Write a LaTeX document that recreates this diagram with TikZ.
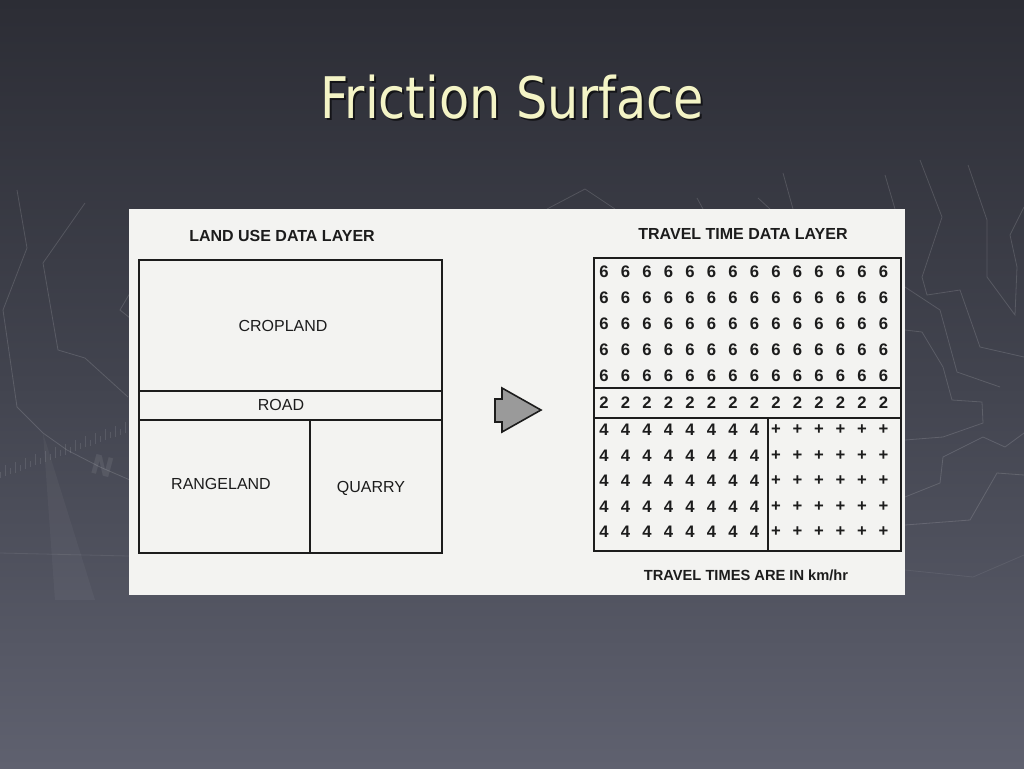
\documentclass[tikz,border=0pt]{standalone}
\usepackage{fontspec}
\usepackage{tikz}
\usetikzlibrary{shapes,arrows,positioning}
\newfontfamily\titlefont{DejaVu Sans}
\newfontfamily\panelfont{Liberation Sans}
\definecolor{slidetop}{HTML}{2C2D35}
\definecolor{slidemid}{HTML}{42444F}
\definecolor{slidebottom}{HTML}{5F616F}
\definecolor{titlecream}{HTML}{F4F4C6}
\definecolor{paper}{HTML}{F3F3F1}
\definecolor{ink}{HTML}{1C1C1C}
\definecolor{arrowgray}{HTML}{9A9A9A}

\begin{document}
\begin{tikzpicture}[x=0.75pt, y=-0.75pt]
% Define styles
\tikzstyle{heading} = [font=\panelfont\bfseries\fontsize{12}{14}\selectfont, text=ink, inner sep=0pt, text depth=0pt]
\tikzstyle{landlabel} = [font=\panelfont\fontsize{12}{14}\selectfont, text=ink, inner sep=0pt, text depth=0pt]
\tikzstyle{cell} = [font=\panelfont\bfseries\fontsize{12.5}{14}\selectfont, text=ink, inner sep=0pt, text depth=0pt]
\tikzstyle{border} = [draw=ink, line width=1.5pt]
\tikzstyle{contour} = [draw=white, opacity=0.14, line width=0.6pt]

% Background
\fill[top color=slidetop, bottom color=slidebottom, middle color=slidemid] (0,0) rectangle (1024,768);
\useasboundingbox (0,0) rectangle (1024,768);

% Faint map lines
\draw[contour] (17,190) -- (27,248) -- (3,310) -- (17,407) -- (43,433) -- (67,450) -- (100,467) -- (130,480);
\draw[contour] (85,203) -- (43,263) -- (58,350) -- (85,358) -- (128,397);
\draw[contour] (130,293) -- (120,310) -- (130,318);
\draw[contour, opacity=0.08] (0,553) -- (129,556);
\foreach \t in {0,...,25}
  \draw[contour, opacity=0.1] (5*\t, 478-0.36*5*\t) -- ++(0,{-6-5*mod(\t,2)});
\fill[white, opacity=0.04] (43,433) -- (95,600) -- (55,600) -- cycle;
\node (compassN) [font=\titlefont\bfseries\fontsize{20}{20}\selectfont, text=white, opacity=0.08, rotate=-15] at (103,466) {N};
\draw[contour] (547,209) -- (585,189) -- (615,209);
\draw[contour] (697,198) -- (703,209);
\draw[contour] (758,198) -- (770,209);
\draw[contour] (783,173) -- (793,209);
\draw[contour] (885,175) -- (895,209);
\draw[contour] (920,160) -- (942,217) -- (922,277) -- (927,295) -- (960,290) -- (980,347) -- (1024,357);
\draw[contour] (968,165) -- (987,220) -- (987,277) -- (1015,315) -- (1017,267) -- (1010,235) -- (1024,207);
\draw[contour] (905,287) -- (940,310) -- (957,372) -- (1000,387);
\draw[contour] (905,330) -- (922,332) -- (943,367) -- (952,400) -- (982,402) -- (983,423) -- (943,437) -- (905,440);
\draw[contour] (905,497) -- (940,483) -- (943,457) -- (983,437) -- (1005,447) -- (1024,433);
\draw[contour] (905,525) -- (970,520) -- (997,473) -- (1024,475);
\draw[contour, opacity=0.07] (905,570) -- (973,577) -- (1024,555);

% Title
\node (titleshadow) [font=\titlefont\fontsize{43}{50}\selectfont, text=black, opacity=0.6, anchor=base] at (514,120) {\scalebox{0.86}[1]{Friction Surface}};
\node (title) [font=\titlefont\fontsize{43}{50}\selectfont, text=titlecream, anchor=base] at (512,118) {\scalebox{0.86}[1]{Friction Surface}};

% Panel
\fill[paper] (129,209) rectangle (905,595);

% Land use layer
\node (landtitle) [heading] at (282,236) {LAND USE DATA LAYER};
\draw[border] (139,260) rectangle (442,553);
\draw[border] (139,391) -- (442,391);
\draw[border] (139,420) -- (442,420);
\draw[border] (310,420) -- (310,553);
\node (cropland) [landlabel] at (283,326) {CROPLAND};
\node (road) [landlabel] at (281,405) {ROAD};
\node (rangeland) [landlabel] at (221,484) {RANGELAND};
\node (quarry) [landlabel] at (371,487) {QUARRY};

% Arrow
\draw[fill=arrowgray, draw=ink, line width=1.2pt, line join=miter] (495,399) -- (502,399) -- (502,388) -- (541,410) -- (502,432) -- (502,422) -- (495,422) -- cycle;

% Travel time layer
\node (traveltitle) [heading] at (743,234) {TRAVEL TIME DATA LAYER};
\draw[border] (594,258) rectangle (901,551);
\draw[border] (594,388) -- (901,388);
\draw[border] (594,418) -- (901,418);
\draw[border] (768,418) -- (768,551);
\foreach \r in {0,...,4}
  \foreach \c in {0,...,13}
    \node (six-\r-\c) [cell] at (604+21.5*\c, 272+26*\r) {6};
\foreach \c in {0,...,13}
  \node (two-\c) [cell] at (604+21.5*\c, 403) {2};
\foreach \r in {0,...,4} {
  \foreach \c in {0,...,7}
    \node (four-\r-\c) [cell] at (604+21.5*\c, 430+25.5*\r) {4};
  \foreach \c in {8,...,13}
    \node (plus-\r-\c) [cell] at (604+21.5*\c, 430+25.5*\r) {+};
}
\node (unitnote) [heading, font=\panelfont\bfseries\fontsize{11}{13}\selectfont] at (746,575) {TRAVEL TIMES ARE IN km/hr};
\end{tikzpicture}
\end{document}
